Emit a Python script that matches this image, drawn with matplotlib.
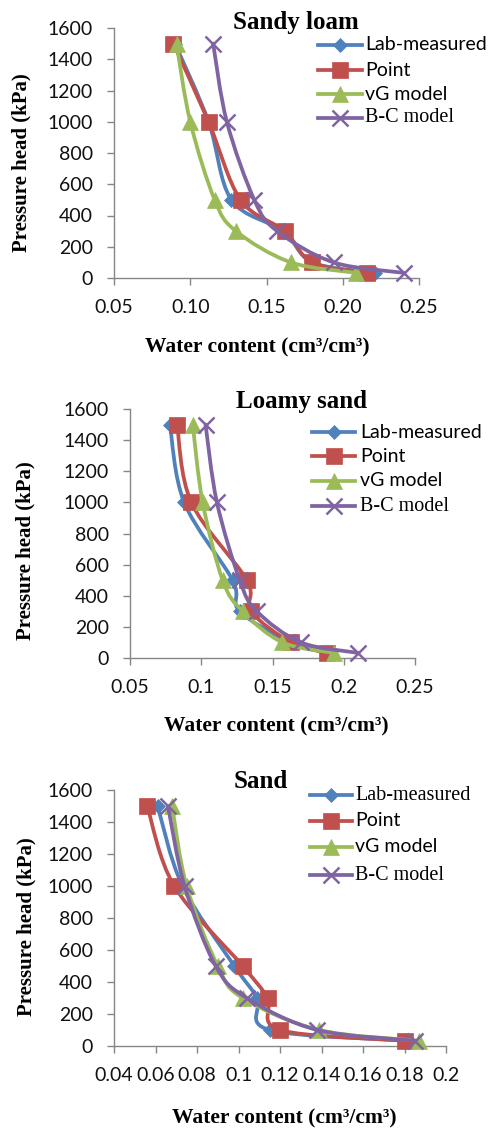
import numpy as np
import matplotlib
matplotlib.use("Agg")
import matplotlib.pyplot as plt
from matplotlib.path import Path
from matplotlib.patches import PathPatch
from matplotlib.lines import Line2D

# pressure heads (kPa), same for every series
heads = [1500, 1000, 500, 300, 100, 33]

series_names = ["Lab-measured", "Point", "vG model", "B-C model"]

# Sandy loam - water content (cm3/cm3)
sl_lab = [0.090, 0.112, 0.127, 0.161, 0.180, 0.221]
sl_point = [0.089, 0.112, 0.133, 0.162, 0.180, 0.216]
sl_vg = [0.091, 0.100, 0.116, 0.130, 0.166, 0.209]
sl_bc = [0.115, 0.124, 0.142, 0.157, 0.194, 0.240]

# Loamy sand
ls_lab = [0.078, 0.088, 0.122, 0.127, 0.163, 0.190]
ls_point = [0.083, 0.093, 0.132, 0.135, 0.163, 0.188]
ls_vg = [0.094, 0.101, 0.115, 0.129, 0.157, 0.193]
ls_bc = [0.103, 0.111, 0.127, 0.139, 0.170, 0.210]

# Sand
s_lab = [0.061, 0.073, 0.098, 0.109, 0.115, 0.182]
s_point = [0.056, 0.069, 0.102, 0.114, 0.120, 0.180]
s_vg = [0.068, 0.075, 0.090, 0.102, 0.139, 0.187]
s_bc = [0.066, 0.074, 0.089, 0.104, 0.138, 0.185]

colors = ["#4F81BD", "#C0504D", "#9BBB59", "#8064A2"]
markers = ["D", "s", "^", "x"]
msizes = [7, 12, 12, 11]

W, H = 490, 1128
SANS = ["Lato", "DejaVu Sans"]
SERIF = ["Liberation Serif", "DejaVu Serif"]
GRAY = "#868686"

fig = plt.figure(figsize=(W / 100, H / 100), dpi=100)


def px_axes(l, t, r, b):
    return fig.add_axes([l / W, 1 - b / H, (r - l) / W, (b - t) / H])


def smooth_line(ax, xs, ys, wpx, hpx, color, z):
    # Excel-like smoothed line (Catmull-Rom -> cubic Bezier)
    x0, x1 = ax.get_xlim()
    y0, y1 = ax.get_ylim()
    P = np.column_stack([(np.array(xs) - x0) / (x1 - x0) * wpx,
                         (np.array(ys) - y0) / (y1 - y0) * hpx])
    n = len(P)
    verts = [P[0]]
    codes = [Path.MOVETO]
    for i in range(n - 1):
        pm = P[max(i - 1, 0)]
        pp = P[min(i + 2, n - 1)]
        c1 = P[i] + (P[i + 1] - pm) / 6
        c2 = P[i + 1] - (pp - P[i]) / 6
        verts += [c1, c2, P[i + 1]]
        codes += [Path.CURVE4] * 3
    V = np.array(verts)
    V[:, 0] = V[:, 0] / wpx * (x1 - x0) + x0
    V[:, 1] = V[:, 1] / hpx * (y1 - y0) + y0
    ax.add_patch(PathPatch(Path(V, codes), fill=False, edgecolor=color,
                           lw=2.7, zorder=z, capstyle="round", joinstyle="round"))


def panel(box, data, xlim, xticks, xticklabels, title, tpos, xlpos, ylpos, leg):
    l, t, r, b = box
    ax = px_axes(l, t, r, b)
    ax.set_xlim(*xlim)
    ax.set_ylim(0, 1600)
    for i, xs in enumerate(data):
        smooth_line(ax, xs, heads, r - l, b - t, colors[i], 2 + i * 2)
        ax.plot(xs, heads, linestyle="none", marker=markers[i], ms=msizes[i],
                color=colors[i], mew=1.8 if markers[i] == "x" else 0.5,
                zorder=3 + i * 2, clip_on=False)
    ax.set_xticks(xticks)
    ax.set_xticklabels(xticklabels)
    ax.set_yticks(range(0, 1601, 200))
    for s in ["top", "right"]:
        ax.spines[s].set_visible(False)
    for s in ["left", "bottom"]:
        ax.spines[s].set_color(GRAY)
        ax.spines[s].set_linewidth(1)
    ax.tick_params(axis="both", direction="out", length=5, width=1, color=GRAY,
                   labelsize=14, labelcolor="#111111")
    ax.tick_params(axis="x", pad=10)
    ax.tick_params(axis="y", pad=10)
    for lab in ax.get_xticklabels() + ax.get_yticklabels():
        lab.set_fontfamily(SANS)

    fig.text(tpos[0] / W, 1 - tpos[1] / H, title, ha="center", va="baseline",
             fontsize=18, fontweight="bold", family=SERIF)
    fig.text(xlpos[0] / W, 1 - xlpos[1] / H, "Water content (cm³/cm³)",
             ha="center", va="baseline", fontsize=15.5, fontweight="bold", family=SERIF)
    fig.text(ylpos[0] / W, 1 - ylpos[1] / H, "Pressure head (kPa)", rotation=90,
             ha="center", va="center", fontsize=15, fontweight="bold", family=SERIF)

    hx0, hx1, tx, rows, fams = leg
    for i, name in enumerate(series_names):
        yy = 1 - rows[i] / H
        fig.add_artist(Line2D([hx0 / W, hx1 / W], [yy, yy], color=colors[i],
                              lw=2.7, transform=fig.transFigure))
        fig.add_artist(Line2D([(hx0 + hx1) / 2 / W], [yy], color=colors[i],
                              marker=markers[i], ms=msizes[i],
                              mew=1.8 if markers[i] == "x" else 0.5,
                              transform=fig.transFigure))
        fig.text(tx / W, yy, name, ha="left", va="center",
                 fontsize=14.5 if fams[i] == "serif" else 14,
                 family=SERIF if fams[i] == "serif" else SANS)
    return ax


panel((114, 28, 419, 278), [sl_lab, sl_point, sl_vg, sl_bc], (0.05, 0.25),
      [0.05, 0.10, 0.15, 0.20, 0.25], ["0.05", "0.10", "0.15", "0.20", "0.25"],
      "Sandy loam", (296, 29), (257, 352), (21, 163),
      (318, 362, 365, [45, 70, 94, 118], ["sans", "sans", "sans", "serif"]))

panel((130, 409, 415, 658), [ls_lab, ls_point, ls_vg, ls_bc], (0.05, 0.25),
      [0.05, 0.10, 0.15, 0.20, 0.25], ["0.05", "0.1", "0.15", "0.2", "0.25"],
      "Loamy sand", (301, 408), (276, 731), (25, 551),
      (312, 355, 360, [432, 456, 481, 506], ["sans", "sans", "sans", "serif"]))

sand_ticks = [0.04, 0.06, 0.08, 0.10, 0.12, 0.14, 0.16, 0.18, 0.20]
sand_labels = ["0.04", "0.06", "0.08", "0.1", "0.12", "0.14", "0.16", "0.18", "0.2"]
panel((114, 790, 446, 1046), [s_lab, s_point, s_vg, s_bc], (0.04, 0.20),
      sand_ticks, sand_labels,
      "Sand", (261, 788), (284, 1123), (26, 927),
      (310, 352, 355, [795, 821, 847, 875], ["serif", "sans", "sans", "serif"]))

fig.savefig("out.png", dpi=100)
